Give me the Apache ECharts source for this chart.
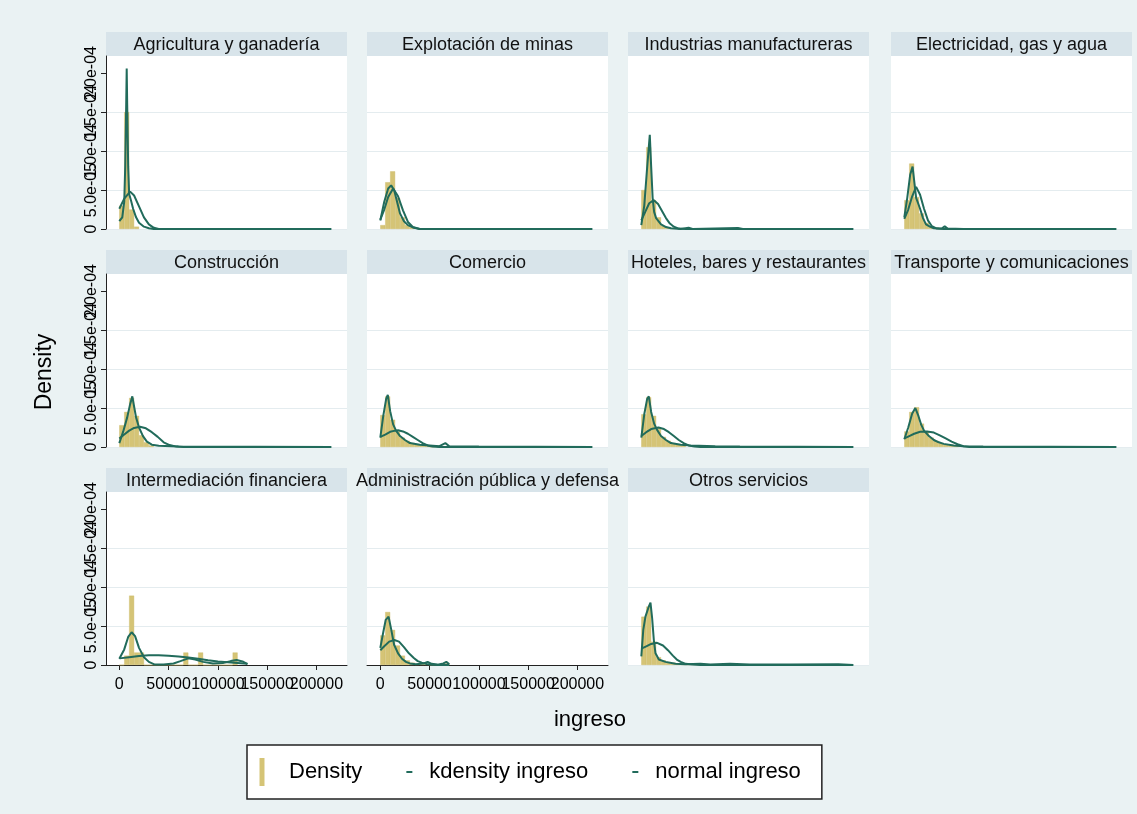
<!DOCTYPE html>
<html><head><meta charset="utf-8">
<script src="https://cdn.jsdelivr.net/npm/echarts@6/dist/echarts.min.js"></script>
<style>html,body{margin:0;padding:0;background:#EAF2F3}#c{width:1137px;height:814px}</style>
</head><body><div id="c"></div>
<script>
// ---------------- DATA ----------------
const panelNames = [
  'Agricultura y ganadería', 'Explotación de minas', 'Industrias manufactureras', 'Electricidad, gas y agua',
  'Construcción', 'Comercio', 'Hoteles, bares y restaurantes', 'Transporte y comunicaciones',
  'Intermediación financiera', 'Administración pública y defensa', 'Otros servicios'
];
const binWidth = 5000; // histogram bins start at 0
const histHeights = [
  [3e-5, 15e-5, 2.5e-5, 0.3e-5],
  [0.5e-5, 6.0e-5, 7.4e-5, 4.0e-5, 1.5e-5, 0.5e-5, 0.2e-5],
  [5.0e-5, 10.5e-5, 3.7e-5, 1.5e-5, 0.4e-5, 0.2e-5, 0.1e-5],
  [3.7e-5, 8.4e-5, 4.1e-5, 2.0e-5, 0.8e-5, 0.3e-5, 0.2e-5],
  [2.8e-5, 4.5e-5, 6.3e-5, 4.0e-5, 1.5e-5, 0.6e-5, 0.2e-5],
  [4.1e-5, 6.5e-5, 3.5e-5, 2.0e-5, 1.2e-5, 0.8e-5, 0.5e-5, 0.3e-5, 0.3e-5, 0.2e-5, 0, 0.2e-5],
  [4.2e-5, 6.4e-5, 4.0e-5, 2.4e-5, 1.3e-5, 0.8e-5, 0.4e-5, 0.3e-5, 0.2e-5],
  [2.0e-5, 4.5e-5, 5.1e-5, 3.0e-5, 2.0e-5, 1.2e-5, 0.8e-5, 0.5e-5, 0.3e-5, 0.3e-5, 0.2e-5],
  [0, 1.2e-5, 8.9e-5, 1.6e-5, 1.6e-5, 0, 0, 0, 0, 0, 0, 0, 0, 1.6e-5, 0, 0, 1.6e-5, 0, 0, 0, 0, 0, 0, 1.6e-5],
  [3.8e-5, 6.8e-5, 4.5e-5, 2.5e-5, 1.2e-5, 0.6e-5, 0.3e-5, 0.1e-5, 0.2e-5, 0.1e-5, 0, 0, 0, 0.2e-5],
  [6.2e-5, 7.5e-5, 3.0e-5, 1.0e-5, 0.6e-5, 0.4e-5, 0.3e-5, 0.2e-5, 0.1e-5, 0.1e-5, 0.1e-5, 0.1e-5]
];
const kdensityPts = [
  [[0,1.0e-5],[3000,1.5e-5],[5000,3.5e-5],[6000,8e-5],[7000,16e-5],[7500,20.6e-5],[8000,16e-5],[9000,8e-5],[10000,4.5e-5],[12000,3.6e-5],[14000,2.6e-5],[17000,1.5e-5],[20000,0.8e-5],[25000,0.3e-5],[30000,0.1e-5],[35000,0],[215000,0]],
  [[0,1.1e-5],[4000,3.5e-5],[8000,5.2e-5],[11000,5.6e-5],[14000,5.0e-5],[17000,3.5e-5],[20000,2.0e-5],[24000,1.0e-5],[28000,0.5e-5],[33000,0.2e-5],[40000,0],[215000,0]],
  [[0,0.5e-5],[3000,3e-5],[6000,8e-5],[8600,12.1e-5],[10000,8e-5],[11500,4e-5],[13000,2.2e-5],[15000,1.4e-5],[20000,0.6e-5],[25000,0.25e-5],[30000,0.1e-5],[40000,0],[48000,0.15e-5],[52000,0],[98000,0.12e-5],[103000,0],[215000,0]],
  [[0,1.5e-5],[3000,4e-5],[6000,7e-5],[8400,8e-5],[10000,6.2e-5],[12000,4e-5],[14000,3.3e-5],[16000,2.6e-5],[19000,1.4e-5],[22000,0.6e-5],[26000,0.3e-5],[30000,0.1e-5],[38000,0.05e-5],[41000,0.35e-5],[44000,0.05e-5],[60000,0],[215000,0]],
  [[0,0.5e-5],[4000,2e-5],[8000,3.8e-5],[11000,5.5e-5],[13200,6.5e-5],[15000,5.2e-5],[17000,3.8e-5],[20000,2.5e-5],[24000,1.4e-5],[28000,0.7e-5],[33000,0.3e-5],[40000,0.15e-5],[60000,0.05e-5],[215000,0]],
  [[0,1.2e-5],[3000,4e-5],[6000,6.2e-5],[7600,6.7e-5],[10000,4.6e-5],[13000,2.9e-5],[16000,2.1e-5],[20000,1.4e-5],[25000,0.9e-5],[30000,0.5e-5],[40000,0.3e-5],[50000,0.2e-5],[60000,0.1e-5],[66000,0.5e-5],[70000,0.1e-5],[100000,0.05e-5],[215000,0]],
  [[0,1.2e-5],[3000,4.2e-5],[6000,6.2e-5],[7600,6.5e-5],[10000,4.5e-5],[13000,3e-5],[16000,2.2e-5],[20000,1.4e-5],[25000,0.9e-5],[30000,0.5e-5],[40000,0.3e-5],[50000,0.2e-5],[75000,0.1e-5],[100000,0.05e-5],[215000,0]],
  [[0,1e-5],[4000,2.5e-5],[8000,4.3e-5],[11200,5.0e-5],[14000,4.1e-5],[17000,2.9e-5],[20000,2.1e-5],[25000,1.4e-5],[30000,0.9e-5],[35000,0.6e-5],[40000,0.4e-5],[50000,0.2e-5],[60000,0.1e-5],[80000,0.05e-5],[215000,0]],
  [[0,0.8e-5],[5000,2.0e-5],[9000,3.6e-5],[12500,4.2e-5],[16000,3.7e-5],[20000,2.2e-5],[25000,1.0e-5],[30000,0.4e-5],[36000,0.05e-5],[45000,0.05e-5],[55000,0.2e-5],[62000,0.5e-5],[70000,0.85e-5],[77000,0.7e-5],[85000,0.4e-5],[95000,0.2e-5],[105000,0.25e-5],[113000,0.5e-5],[119000,0.65e-5],[125000,0.45e-5],[130000,0.1e-5]],
  [[0,2.2e-5],[3000,4.2e-5],[5500,5.8e-5],[8400,6.2e-5],[11000,4.6e-5],[14000,2.6e-5],[18000,1.5e-5],[22000,0.8e-5],[26000,0.4e-5],[30000,0.2e-5],[36000,0.1e-5],[44000,0.2e-5],[48000,0.4e-5],[52000,0.15e-5],[58000,0.05e-5],[64000,0.2e-5],[67000,0.4e-5],[70000,0.1e-5]],
  [[0,1.1e-5],[2000,4.5e-5],[4200,6.2e-5],[7600,7.5e-5],[9300,8.0e-5],[11000,6e-5],[12700,3.2e-5],[14400,1.5e-5],[17800,0.7e-5],[24500,0.4e-5],[34600,0.15e-5],[45000,0.1e-5],[60000,0.15e-5],[70000,0.05e-5],[90000,0.15e-5],[110000,0.05e-5],[150000,0.05e-5],[200000,0.1e-5],[215000,0]]
];
const normalPts = [
  [[0,2.6e-5],[5000,3.9e-5],[11000,4.8e-5],[15000,4.3e-5],[20000,2.9e-5],[25000,1.5e-5],[30000,0.6e-5],[35000,0.15e-5],[40000,0],[215000,0]],
  [[0,1.2e-5],[4000,2.5e-5],[8000,4.1e-5],[13000,5.2e-5],[18000,4.2e-5],[23000,2.4e-5],[28000,0.9e-5],[33000,0.25e-5],[40000,0],[215000,0]],
  [[0,1.1e-5],[4000,2.2e-5],[8000,3.3e-5],[12700,3.7e-5],[17000,3.2e-5],[21000,2.3e-5],[25000,1.4e-5],[29000,0.7e-5],[33000,0.3e-5],[38000,0.05e-5],[45000,0],[215000,0]],
  [[0,1.3e-5],[4000,2.5e-5],[8000,4.2e-5],[12000,5.4e-5],[16000,4.4e-5],[20000,2.6e-5],[24000,1.1e-5],[28000,0.35e-5],[33000,0.05e-5],[40000,0],[215000,0]],
  [[0,1.1e-5],[5000,1.6e-5],[10000,2.1e-5],[15000,2.45e-5],[21000,2.6e-5],[27000,2.4e-5],[33000,1.9e-5],[39000,1.3e-5],[45000,0.6e-5],[51000,0.25e-5],[58000,0.05e-5],[65000,0],[215000,0]],
  [[0,1.3e-5],[5000,1.6e-5],[10000,1.95e-5],[15000,2.1e-5],[18000,2.15e-5],[23000,2.0e-5],[28000,1.7e-5],[33000,1.3e-5],[38000,0.9e-5],[43000,0.5e-5],[48000,0.2e-5],[53000,0.05e-5],[60000,0],[215000,0]],
  [[0,1.4e-5],[5000,1.9e-5],[10000,2.3e-5],[17400,2.5e-5],[23000,2.3e-5],[28000,1.9e-5],[33000,1.4e-5],[38000,0.9e-5],[43000,0.5e-5],[48000,0.2e-5],[54000,0.05e-5],[60000,0],[215000,0]],
  [[0,1.1e-5],[5000,1.4e-5],[10000,1.7e-5],[16000,1.95e-5],[23000,2.0e-5],[30000,1.85e-5],[36000,1.5e-5],[42000,1.1e-5],[48000,0.7e-5],[54000,0.35e-5],[60000,0.1e-5],[66000,0],[215000,0]],
  [[0,0.85e-5],[10000,1.0e-5],[20000,1.15e-5],[30000,1.25e-5],[40000,1.25e-5],[50000,1.2e-5],[60000,1.1e-5],[70000,0.95e-5],[80000,0.8e-5],[90000,0.6e-5],[100000,0.45e-5],[110000,0.35e-5],[120000,0.25e-5],[130000,0.15e-5]],
  [[0,1.9e-5],[4000,2.4e-5],[9000,3.0e-5],[14200,3.2e-5],[19000,3.0e-5],[24000,2.3e-5],[29000,1.5e-5],[34000,0.9e-5],[38000,0.5e-5],[42000,0.3e-5],[47000,0.12e-5],[53000,0.03e-5],[60000,0],[70000,0]],
  [[0,2.1e-5],[5000,2.4e-5],[10000,2.7e-5],[16000,2.85e-5],[22000,2.5e-5],[27000,1.9e-5],[32000,1.2e-5],[36000,0.7e-5],[40000,0.4e-5],[45000,0.15e-5],[52000,0.05e-5],[60000,0],[215000,0]]
];
const xTickValues = [0, 50000, 100000, 150000, 200000];
const xTickLabels = ['0', '50000', '100000', '150000', '200000'];
const yTickValues = [0, 5e-5, 1e-4, 1.5e-4, 2e-4];
const yTickLabels = ['0', '5.0e-05', '1.0e-04', '1.5e-04', '2.0e-04'];
const legendNames = ['Density', 'kdensity ingreso', 'normal ingreso'];
const xTitle = 'ingreso';
const yTitle = 'Density';

// ---------------- LAYOUT / STYLE ----------------
const FONT = "'Liberation Sans', Arial, Helvetica, sans-serif";
const colLeft = [106, 367, 628, 891];
const rowTop = [56, 274, 492];
const panelW = 241, plotH = 173, stripH = 24;
const xMin = -13500, xMax = 231000, yMax = 22.2e-5;
const barColor = '#D5C476', lineColor = '#216B5B';
const stripColor = '#D8E4EA', gridColor = '#E4ECEF';
const xAxisPanels = [8, 9];

// labels split into two interleaved sets so that none of them is auto-hidden
const evenIdx = [0, 2, 4], oddIdx = [1, 3];
const xFmt = v => { const k = xTickValues.indexOf(v); return k >= 0 ? xTickLabels[k] : ''; };
const yFmt = v => { const k = yTickValues.findIndex(t => Math.abs(t - v) < 1e-9); return k >= 0 ? yTickLabels[k] : ''; };

const chart = echarts.init(document.getElementById('c'), null, {renderer: 'canvas'});
const grids = [], xAxes = [], yAxes = [], extraX = [], extraY = [], series = [], graphics = [];

const xLabelStyle = {margin: 12, fontSize: 16, color: '#000', fontFamily: FONT,
  showMinLabel: true, showMaxLabel: true, hideOverlap: false, formatter: xFmt};
const yLabelStyle = {rotate: 90, margin: 6, fontSize: 16, color: '#000', fontFamily: FONT,
  showMinLabel: true, showMaxLabel: true, hideOverlap: false, formatter: yFmt};

panelNames.forEach((name, i) => {
  const col = i % 4, row = Math.floor(i / 4);
  const left = colLeft[col], top = rowTop[row];
  grids.push({left: left, top: top, width: panelW, height: plotH, show: true,
    backgroundColor: '#FFFFFF', borderWidth: 0, containLabel: false, outerBoundsMode: 'none'});
  const showX = xAxisPanels.indexOf(i) >= 0;
  xAxes.push({type: 'value', gridIndex: i, position: 'bottom', min: xMin, max: xMax, show: true,
    axisLine: {show: showX, onZero: false, lineStyle: {color: '#222', width: 1}},
    axisTick: {show: showX, length: 5, customValues: xTickValues, lineStyle: {color: '#222'}},
    axisLabel: Object.assign({show: showX, customValues: evenIdx.map(k => xTickValues[k])}, xLabelStyle),
    splitLine: {show: false}});
  if (showX) {
    extraX.push({type: 'value', gridIndex: i, position: 'bottom', offset: 0, min: xMin, max: xMax, show: true,
      axisLine: {show: false}, axisTick: {show: false}, splitLine: {show: false},
      axisLabel: Object.assign({show: true, customValues: oddIdx.map(k => xTickValues[k])}, xLabelStyle)});
  }
  const showY = col === 0;
  yAxes.push({type: 'value', gridIndex: i, position: 'left', min: 0, max: yMax, interval: 5e-5, show: true,
    axisLine: {show: showY, onZero: false, lineStyle: {color: '#222', width: 1}},
    axisTick: {show: showY, length: 5, customValues: yTickValues, lineStyle: {color: '#222'}},
    axisLabel: Object.assign({show: showY, customValues: evenIdx.map(k => yTickValues[k])}, yLabelStyle),
    splitLine: {show: true, showMinLine: true, showMaxLine: false, lineStyle: {color: gridColor, width: 1}}});
  if (showY) {
    extraY.push({type: 'value', gridIndex: i, position: 'left', offset: 0, min: 0, max: yMax, show: true,
      axisLine: {show: false}, axisTick: {show: false}, splitLine: {show: false},
      axisLabel: Object.assign({show: true, customValues: oddIdx.map(k => yTickValues[k])}, yLabelStyle)});
  }

  series.push({name: legendNames[0], type: 'bar', xAxisIndex: i, yAxisIndex: i, z: 1,
    barWidth: '100%', itemStyle: {color: barColor, borderColor: '#CBB964', borderWidth: 0.4},
    data: histHeights[i].map((h, k) => [k * binWidth + binWidth / 2, h]), silent: true});
  series.push({name: legendNames[1], type: 'line', xAxisIndex: i, yAxisIndex: i, z: 3,
    showSymbol: false, symbol: 'none', itemStyle: {color: lineColor},
    lineStyle: {color: lineColor, width: 2}, data: kdensityPts[i], silent: true});
  series.push({name: legendNames[2], type: 'line', xAxisIndex: i, yAxisIndex: i, z: 3,
    showSymbol: false, symbol: 'none', itemStyle: {color: lineColor},
    lineStyle: {color: lineColor, width: 2}, data: normalPts[i], silent: true});

  graphics.push({type: 'rect', shape: {x: left, y: top - stripH, width: panelW, height: stripH},
    style: {fill: stripColor}, z: 0, silent: true});
  graphics.push({type: 'text', x: left + panelW / 2, y: top - stripH / 2 + 1, z: 1, silent: true,
    style: {text: name, fill: '#111', font: '18px ' + FONT, align: 'center', verticalAlign: 'middle'}});
});

graphics.push({type: 'text', x: 45, y: 372, rotation: Math.PI / 2, silent: true,
  style: {text: yTitle, fill: '#000', font: '23px ' + FONT, align: 'center', verticalAlign: 'middle'}});
graphics.push({type: 'text', x: 590, y: 720, silent: true,
  style: {text: xTitle, fill: '#000', font: '22px ' + FONT, align: 'center', verticalAlign: 'middle'}});

const option = {
  animation: false,
  backgroundColor: '#EAF2F3',
  grid: grids, xAxis: xAxes.concat(extraX), yAxis: yAxes.concat(extraY), series: series,
  graphic: {elements: graphics},
  legend: {
    show: true, left: 247, top: 745, orient: 'horizontal',
    padding: [12, 21, 12, 7], itemGap: 32, itemWidth: 30, itemHeight: 30,
    backgroundColor: '#FFFFFF', borderColor: '#222', borderWidth: 1.5, borderRadius: 0,
    selectedMode: false, itemStyle: {borderWidth: 0},
    textStyle: {fontSize: 22, color: '#000', fontFamily: FONT},
    data: [
      {name: legendNames[0], icon: 'path://M0,0 M30,30 M5.5,1 h5 v28 h-5 z'},
      {name: legendNames[1], icon: 'path://M0,0 M30,30 M12,14 h6 v2 h-6 z'},
      {name: legendNames[2], icon: 'path://M0,0 M30,30 M12,14 h6 v2 h-6 z'}
    ]
  }
};
chart.setOption(option);
</script>
</body></html>
